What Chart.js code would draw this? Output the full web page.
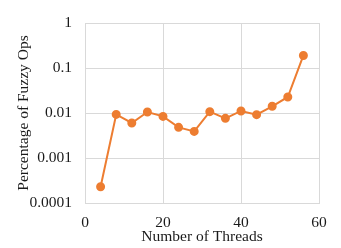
<!DOCTYPE html>
<html>
<head>
<meta charset="utf-8">
<script src="https://cdn.jsdelivr.net/npm/chart.js@4"></script>
<style>
  html, body { margin: 0; padding: 0; background: #fff; }
  #wrap { width: 341px; height: 248px; }
</style>
</head>
<body>
<div id="wrap"><canvas id="myChart" width="341" height="248"></canvas></div>
<script>
// thread counts on the x axis
const threads = [4, 8, 12, 16, 20, 24, 28, 32, 36, 40, 44, 48, 52, 56];
// percentage of fuzzy ops (log scale)
const fuzzyPct = [0.00023, 0.0093, 0.0060, 0.0105, 0.0084, 0.0048, 0.0039, 0.0107, 0.0076, 0.0111, 0.0092, 0.0141, 0.0227, 0.19];
const yTicks = [0.0001, 0.001, 0.01, 0.1, 1];
const xTicks = [0, 20, 40, 60];

const serif = "'Liberation Serif', 'Times New Roman', serif";
const gridColor = '#d9d9d9';

const ctx = document.getElementById('myChart').getContext('2d');
new Chart(ctx, {
    type: 'line',
    data: {
        datasets: [{
            data: threads.map((t, i) => ({ x: t, y: fuzzyPct[i] })),
            borderColor: '#ED7D31',
            backgroundColor: '#ED7D31',
            borderWidth: 2,
            pointRadius: 3.5,
            pointHoverRadius: 3.5,
            tension: 0
        }]
    },
    options: {
        responsive: false,
        animation: false,
        layout: { padding: { top: 23, right: 22, left: 0, bottom: 0 } },
        plugins: { legend: { display: false }, tooltip: { enabled: false } },
        scales: {
            x: {
                type: 'linear',
                min: 0,
                max: 60,
                afterBuildTicks: axis => { axis.ticks = xTicks.map(v => ({ value: v })); },
                afterFit: axis => { axis.height = 45; },
                grid: { color: gridColor, drawTicks: false },
                border: { color: gridColor },
                ticks: { color: '#1a1a1a', font: { family: serif, size: 15.5 }, padding: 11, maxRotation: 0 },
                title: { display: true, text: 'Number of Threads', color: '#1a1a1a', font: { family: serif, size: 15.5 }, padding: { top: 0, bottom: 2 } }
            },
            y: {
                type: 'logarithmic',
                min: 0.0001,
                max: 1,
                afterBuildTicks: axis => { axis.ticks = yTicks.map(v => ({ value: v })); },
                afterFit: axis => { axis.width = 85; },
                grid: { color: gridColor, drawTicks: false },
                border: { color: gridColor },
                ticks: { color: '#1a1a1a', font: { family: serif, size: 15.5 }, padding: 13, callback: v => String(v) },
                title: { display: true, text: 'Percentage of Fuzzy Ops', color: '#1a1a1a', font: { family: serif, size: 15.5 }, padding: { top: 15, bottom: 0 } }
            }
        }
    }
});
</script>
</body>
</html>
